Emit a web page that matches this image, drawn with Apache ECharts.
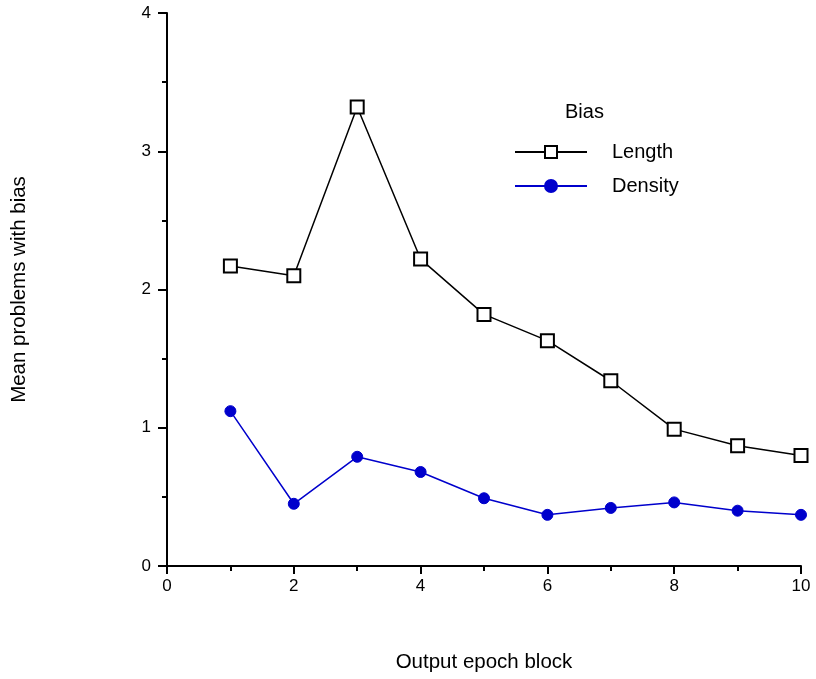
<!DOCTYPE html>
<html><head><meta charset="utf-8">
<script src="https://cdn.jsdelivr.net/npm/echarts@6/dist/echarts.min.js"></script>
<style>html,body{margin:0;padding:0;background:#fff}#c{width:816px;height:679px}</style>
</head><body><div id="c"></div>
<script>
const blocks = [1,2,3,4,5,6,7,8,9,10];
const lengthBias = [2.17,2.10,3.32,2.22,1.82,1.63,1.34,0.99,0.87,0.80];
const densityBias = [1.12,0.45,0.79,0.68,0.49,0.37,0.42,0.46,0.40,0.37];
const xTicks = [0,2,4,6,8,10];
const yTicks = [0,1,2,3,4];

const font = 'Liberation Sans, Arial, sans-serif';
const chart = echarts.init(document.getElementById('c'));
chart.setOption({
  backgroundColor:'#fff',
  animation:false,
  grid:{left:167, right:15, top:13, bottom:113, containLabel:false, outerBoundsMode:'none'},
  graphic:[{type:'text', left:565, top:102, style:{text:'Bias', font:'20px '+font, fill:'#000'}}],
  legend:{
    orient:'vertical', left:509, top:137, padding:5, itemWidth:72, itemHeight:15, itemGap:14,
    textStyle:{fontFamily:font, fontSize:20, lineHeight:20, color:'#000', padding:[0,0,0,20]},
    data:['Length','Density']
  },
  xAxis:{
    type:'value', min:0, max:10, interval:2,
    name:'Output epoch block', nameLocation:'middle', nameGap:86,
    nameTextStyle:{fontFamily:font, fontSize:20.5, color:'#000'},
    axisLine:{lineStyle:{color:'#000', width:2}},
    axisTick:{length:8, lineStyle:{color:'#000', width:2}},
    minorTick:{show:true, splitNumber:2, length:5, lineStyle:{color:'#000', width:2}},
    splitLine:{show:false},
    axisLabel:{fontFamily:font, fontSize:17, color:'#000', margin:12,
      formatter:v=> xTicks.includes(v)? String(v):''}
  },
  yAxis:{
    type:'value', min:0, max:4, interval:1,
    name:'Mean problems with bias', nameLocation:'middle', nameGap:137, nameRotate:90,
    nameTextStyle:{fontFamily:font, fontSize:20.5, color:'#000'},
    axisLine:{show:true, lineStyle:{color:'#000', width:2}},
    axisTick:{show:true, length:9, lineStyle:{color:'#000', width:2}},
    minorTick:{show:true, splitNumber:2, length:5, lineStyle:{color:'#000', width:2}},
    splitLine:{show:false},
    axisLabel:{fontFamily:font, fontSize:17, color:'#000', margin:16,
      formatter:v=> yTicks.includes(v)? String(v):''}
  },
  series:[
    {name:'Length', type:'line', data:blocks.map((b,i)=>[b,lengthBias[i]]),
     symbol:'rect', symbolSize:13, showAllSymbol:true,
     lineStyle:{color:'#000', width:1.5},
     itemStyle:{color:'#fff', borderColor:'#000', borderWidth:2}},
    {name:'Density', type:'line', data:blocks.map((b,i)=>[b,densityBias[i]]),
     symbol:'circle', symbolSize:11, showAllSymbol:true,
     lineStyle:{color:'#0000cc', width:1.5},
     itemStyle:{color:'#0000cc', borderColor:'#0000cc', borderWidth:1}}
  ]
});
</script></body></html>
